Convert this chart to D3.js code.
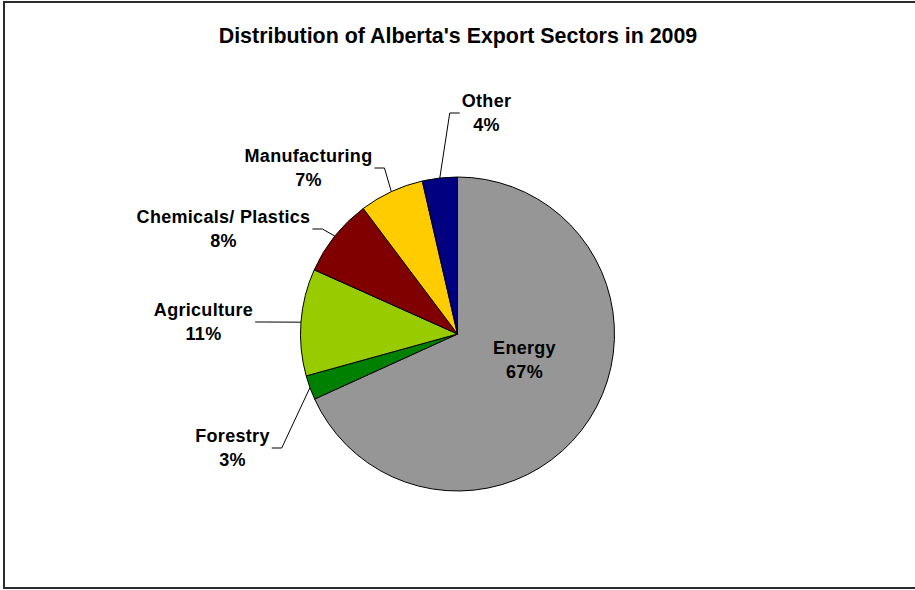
<!DOCTYPE html>
<html>
<head>
<meta charset="utf-8">
<script src="https://cdn.jsdelivr.net/npm/d3@7"></script>
<style>
  body { margin: 0; background: #ffffff; }
  svg text { font-family: "Liberation Sans", Arial, sans-serif; font-weight: bold; fill: #000; }
</style>
</head>
<body>
<div id="chart"></div>
<script>
// data
const sectors = ["Energy", "Forestry", "Agriculture", "Chemicals/ Plastics", "Manufacturing", "Other"];
const shares = [68.2, 2.5, 11.0, 8.05, 6.65, 3.6];
const shareLabels = ["67%", "3%", "11%", "8%", "7%", "4%"];
const sectorColors = ["#969696", "#008000", "#99cc00", "#800000", "#ffcc00", "#000080"];

// label block centres, relative to the pie centre (layout only)
const labelOffsets = [[67, 26], [-225, 114], [-254, -12], [-234, -105], [-149, -166], [29, -221]];

const W = 915, H = 590;
const cx = 457.5, cy = 334, radius = 157;

let svg = d3.select("#chart").append("svg")
    .attr("width", W)
    .attr("height", H);

svg.append("rect")
    .attr("x", 4).attr("y", 2)
    .attr("width", 1000).attr("height", 586)
    .attr("fill", "#ffffff")
    .attr("stroke", "#2b2b2b")
    .attr("stroke-width", 2);

svg.append("text")
    .attr("x", 458)
    .attr("y", 43)
    .attr("text-anchor", "middle")
    .style("font-size", "21.4px")
    .text("Distribution of Alberta's Export Sectors in 2009");

let data = sectors.map(function (s, i) {
    return { name: s, value: shares[i], label: shareLabels[i], color: sectorColors[i], offset: labelOffsets[i] };
});

let pie = d3.pie().sort(null).value(function (d) { return d.value; });
let arc = d3.arc().innerRadius(0).outerRadius(radius);
let arcs = pie(data);

let g = svg.append("g").attr("transform", "translate(" + cx + "," + cy + ")");

g.selectAll(".slice")
    .data(arcs)
    .enter().append("path")
    .attr("class", "slice")
    .attr("d", arc)
    .attr("fill", function (d) { return d.data.color; })
    .attr("stroke", "#000")
    .attr("stroke-width", 1)
    .attr("stroke-linejoin", "round");

// labels
let labels = g.selectAll(".lbl")
    .data(arcs)
    .enter().append("text")
    .attr("class", "lbl")
    .attr("text-anchor", "middle")
    .style("font-size", "18px")
    .style("letter-spacing", "0.3px")
    .attr("transform", function (d) { return "translate(" + d.data.offset[0] + "," + d.data.offset[1] + ")"; });

labels.append("tspan")
    .attr("x", 0).attr("y", -6.5)
    .text(function (d) { return d.data.name; });
labels.append("tspan")
    .attr("x", 0).attr("y", 17.5)
    .text(function (d) { return d.data.label; });

// leader lines for the labels that sit outside the pie
labels.each(function (d) {
    const ox = d.data.offset[0], oy = d.data.offset[1];
    if (Math.hypot(ox, oy) < radius) return;
    const w = this.getBBox().width;
    const mid = (d.startAngle + d.endAngle) / 2;
    const ex = Math.sin(mid) * radius, ey = -Math.cos(mid) * radius;
    const side = ex < ox ? -1 : 1;   // label to the right of the edge point -> line meets its left side
    const endX = ox + side * (w / 2 + 2);
    const elbowX = endX + side * 10;
    g.append("polyline")
        .attr("points", [[ex, ey], [elbowX, oy], [endX, oy]].map(function (p) { return p.join(","); }).join(" "))
        .attr("fill", "none")
        .attr("stroke", "#000")
        .attr("stroke-width", 1);
});
</script>
</body>
</html>
